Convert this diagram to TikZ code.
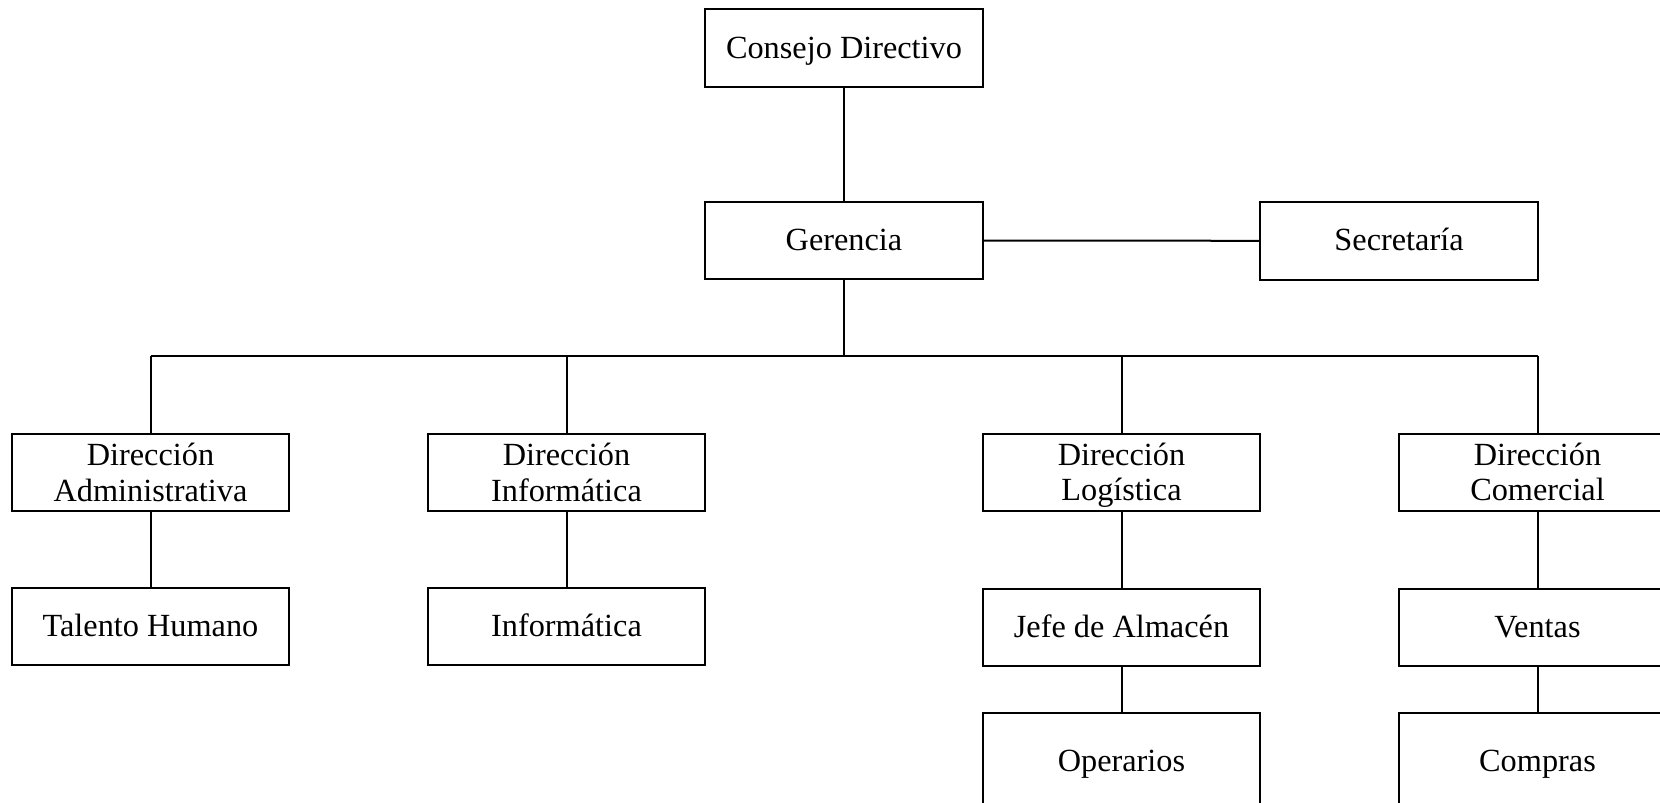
\documentclass[tikz,border=0pt]{standalone}
\usepackage{fontspec}
\setmainfont{Liberation Serif}
\newcommand{\boxline}[2]{\raisebox{-#1}[\height][\depth]{\strut #2}}
\newcommand{\oneline}[1]{\boxline{1.55pt}{#1}}
\newcommand{\twolines}[2]{\boxline{1.9pt}{#1}\\\boxline{1.9pt}{#2}}
\begin{document}
\begin{tikzpicture}[x=0.5pt,y=-0.5pt,
  box/.style={draw,line width=1pt,minimum width=277.5*0.5pt,minimum height=77.5*0.5pt,
    inner sep=0pt,align=center,font=\fontsize{16.15}{17.65}\selectfont},
  tallbox/.style={box,minimum height=96*0.5pt},
  conn/.style={line width=1pt}]
\useasboundingbox (0,0) rectangle (1660,803);
\clip (0,0) rectangle (1660,803);
\fill[white] (0,0) rectangle (1660,803);
\node[box] (consejo) at (844,48) {\oneline{Consejo Directivo}};
\node[box] (gerencia) at (844,240.5) {\oneline{Gerencia}};
\node[box] (secretaria) at (1399,240.8) {\oneline{Secretaría}};
\node[box] (admin) at (150.5,472.5) {\twolines{Dirección}{Administrativa}};
\node[box] (dinfo) at (566.5,472.5) {\twolines{Dirección}{Informática}};
\node[box] (logis) at (1121.5,472.3) {\twolines{Dirección}{Logística}};
\node[box] (comer) at (1537.5,472.3) {\twolines{Dirección}{Comercial}};
\node[box] (talento) at (150.5,626.7) {\oneline{Talento Humano}};
\node[box] (info) at (566.5,626.7) {\oneline{Informática}};
\node[box] (jefe) at (1121.5,627.3) {\oneline{Jefe de Almacén}};
\node[box] (ventas) at (1537.5,627.3) {\oneline{Ventas}};
\node[tallbox] (oper) at (1121.5,761) {\oneline{Operarios}};
\node[tallbox] (compras) at (1537.5,761) {\oneline{Compras}};
\coordinate (bus) at (844,355.5);
\draw[conn] (consejo.south) -- (gerencia.north);
\draw[conn] (gerencia.east) -- (secretaria.west);
\draw[conn] (gerencia.south) -- (bus);
\draw[conn] (bus -| admin.north) -- (bus -| comer.north);
\foreach \n in {admin,dinfo,logis,comer}
  \draw[conn] (bus -| \n.north) -- (\n.north);
\draw[conn] (admin.south) -- (talento.north);
\draw[conn] (dinfo.south) -- (info.north);
\draw[conn] (logis.south) -- (jefe.north);
\draw[conn] (jefe.south) -- (oper.north);
\draw[conn] (comer.south) -- (ventas.north);
\draw[conn] (ventas.south) -- (compras.north);
\end{tikzpicture}
\end{document}
